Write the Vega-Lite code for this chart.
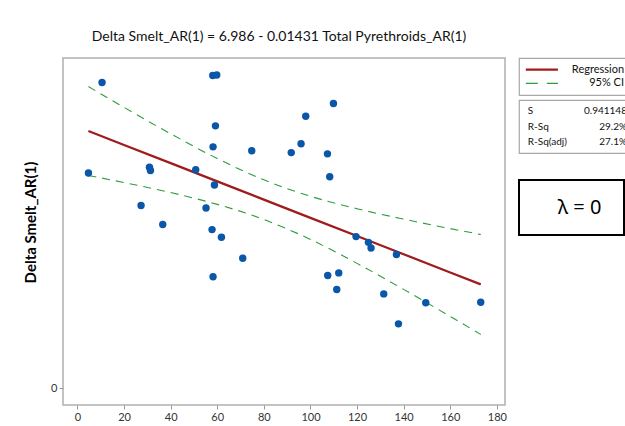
{
  "$schema": "https://vega.github.io/schema/vega-lite/v6.json",
  "background": "white",
  "padding": {"left": 22, "top": 29, "right": 0, "bottom": 0},
  "bounds": "flush",
  "spacing": 14,
  "config": {
    "font": "Lato",
    "view": {"stroke": "#b0b0b0", "strokeWidth": 1.5},
    "axis": {"grid": false, "domain": false, "tickColor": "#999999", "tickSize": 4, "labelFontSize": 11, "labelColor": "#333333", "labelFont": "Lato", "labelPadding": 2}
  },
  "datasets": {
    "pts": [
      {"x": 10.56, "y": 7.68}, {"x": 58.07, "y": 7.79}, {"x": 59.79, "y": 7.80}, {"x": 59.23, "y": 7.00},
      {"x": 58.20, "y": 6.67}, {"x": 74.81, "y": 6.61}, {"x": 91.76, "y": 6.58}, {"x": 4.72, "y": 6.26},
      {"x": 30.90, "y": 6.35}, {"x": 31.33, "y": 6.30}, {"x": 50.77, "y": 6.31}, {"x": 58.80, "y": 6.07},
      {"x": 27.30, "y": 5.75}, {"x": 55.19, "y": 5.71}, {"x": 36.61, "y": 5.45}, {"x": 57.77, "y": 5.37},
      {"x": 109.87, "y": 7.35}, {"x": 97.98, "y": 7.15}, {"x": 95.97, "y": 6.72}, {"x": 107.30, "y": 6.56},
      {"x": 108.28, "y": 6.20}, {"x": 119.57, "y": 5.26}, {"x": 124.89, "y": 5.17}, {"x": 126.01, "y": 5.08},
      {"x": 136.91, "y": 4.98}, {"x": 61.80, "y": 5.25}, {"x": 70.94, "y": 4.92}, {"x": 58.20, "y": 4.63},
      {"x": 107.42, "y": 4.65}, {"x": 112.15, "y": 4.69}, {"x": 111.29, "y": 4.43}, {"x": 131.46, "y": 4.36},
      {"x": 149.49, "y": 4.22}, {"x": 173.09, "y": 4.23}, {"x": 137.77, "y": 3.89}
    ],
    "fit": [
      {"x": 4.7, "fit": 6.919, "lower": 6.221, "upper": 7.617},
      {"x": 20, "fit": 6.700, "lower": 6.109, "upper": 7.291},
      {"x": 40, "fit": 6.414, "lower": 5.952, "upper": 6.876},
      {"x": 60, "fit": 6.127, "lower": 5.767, "upper": 6.487},
      {"x": 80, "fit": 5.841, "lower": 5.530, "upper": 6.152},
      {"x": 100, "fit": 5.555, "lower": 5.216, "upper": 5.894},
      {"x": 120, "fit": 5.269, "lower": 4.840, "upper": 5.698},
      {"x": 140, "fit": 4.983, "lower": 4.431, "upper": 5.535},
      {"x": 160, "fit": 4.696, "lower": 4.006, "upper": 5.386},
      {"x": 173.1, "fit": 4.509, "lower": 3.724, "upper": 5.294}
    ],
    "legend": [{"label": "Regression"}, {"label": "95% CI"}],
    "stats": [
      {"stat": "S", "value": "0.941148"},
      {"stat": "R-Sq", "value": "29.2%"},
      {"stat": "R-Sq(adj)", "value": "27.1%"}
    ],
    "lambda": [{"label": "λ = 0"}]
  },
  "hconcat": [
    {
      "width": 442,
      "height": 347,
      "title": {"text": "Delta Smelt_AR(1) = 6.986 - 0.01431 Total Pyrethroids_AR(1)", "fontSize": 14, "fontWeight": "normal", "font": "Lato", "color": "#111111", "offset": 14, "dx": -5},
      "layer": [
        {
          "data": {"name": "fit"},
          "mark": {"type": "line", "color": "#2e9b3c", "strokeWidth": 1.1, "strokeDash": [8, 6], "interpolate": "monotone"},
          "encoding": {
            "x": {"field": "x", "type": "quantitative", "title": null, "scale": {"domain": [-6.2, 183.5], "nice": false, "zero": false}, "axis": {"values": [0, 20, 40, 60, 80, 100, 120, 140, 160, 180], "labelPadding": 2}},
            "y": {"field": "lower", "type": "quantitative", "title": "Delta Smelt_AR(1)", "scale": {"domain": [2.615, 8.066], "nice": false, "zero": false}, "axis": {"values": [2.88], "labelExpr": "'0'", "titleFontSize": 15, "titleFontWeight": "bold", "titleColor": "#000000", "titlePadding": 12, "titleFont": "Lato", "titleY": 164}}
          }
        },
        {
          "data": {"name": "fit"},
          "mark": {"type": "line", "color": "#2e9b3c", "strokeWidth": 1.1, "strokeDash": [8, 6], "interpolate": "monotone"},
          "encoding": {
            "x": {"field": "x", "type": "quantitative", "title": null},
            "y": {"field": "upper", "type": "quantitative", "title": "Delta Smelt_AR(1)"}
          }
        },
        {
          "data": {"name": "fit"},
          "mark": {"type": "line", "color": "#a01c1c", "strokeWidth": 2.3},
          "encoding": {
            "x": {"field": "x", "type": "quantitative", "title": null},
            "y": {"field": "fit", "type": "quantitative", "title": "Delta Smelt_AR(1)"}
          }
        },
        {
          "data": {"name": "pts"},
          "mark": {"type": "circle", "color": "#0a56a8", "size": 55, "opacity": 1},
          "encoding": {
            "x": {"field": "x", "type": "quantitative", "title": null},
            "y": {"field": "y", "type": "quantitative", "title": "Delta Smelt_AR(1)"}
          }
        }
      ]
    },
    {
      "bounds": "flush",
      "spacing": 5,
      "vconcat": [
        {
          "width": 107,
          "height": 37,
          "view": {"stroke": "#a8a8a8", "strokeWidth": 1.2},
          "data": {"name": "legend"},
          "layer": [
            {
              "mark": {"type": "rule"},
              "encoding": {
                "y": {"field": "label", "type": "nominal", "scale": {"type": "point", "domain": ["Regression", "95% CI"], "padding": 0.85}, "axis": null},
                "x": {"datum": 7, "type": "quantitative", "scale": {"domain": [0, 107]}, "axis": null},
                "x2": {"datum": 40},
                "color": {"field": "label", "type": "nominal", "scale": {"domain": ["Regression", "95% CI"], "range": ["#a01c1c", "#2e9b3c"]}, "legend": null},
                "strokeDash": {"field": "label", "type": "nominal", "scale": {"domain": ["Regression", "95% CI"], "range": [[1, 0], [12, 9]]}, "legend": null},
                "strokeWidth": {"field": "label", "type": "nominal", "scale": {"domain": ["Regression", "95% CI"], "range": [2.4, 1.4]}, "legend": null}
              }
            },
            {
              "mark": {"type": "text", "align": "right", "baseline": "middle", "fontSize": 11, "font": "Lato", "color": "#111111", "clip": true},
              "encoding": {
                "y": {"field": "label", "type": "nominal", "axis": null},
                "x": {"datum": 108, "type": "quantitative"},
                "text": {"field": "label"}
              }
            }
          ]
        },
        {
          "width": 107,
          "height": 53,
          "view": {"stroke": "#a8a8a8", "strokeWidth": 1.2},
          "data": {"name": "stats"},
          "layer": [
            {
              "mark": {"type": "text", "align": "left", "baseline": "middle", "fontSize": 10, "font": "Lato", "color": "#111111"},
              "encoding": {
                "y": {"field": "stat", "type": "nominal", "scale": {"type": "point", "domain": ["S", "R-Sq", "R-Sq(adj)"], "padding": 0.75}, "axis": null},
                "x": {"datum": 9, "type": "quantitative", "scale": {"domain": [0, 107]}, "axis": null},
                "text": {"field": "stat"}
              }
            },
            {
              "mark": {"type": "text", "align": "right", "baseline": "middle", "fontSize": 10, "font": "Lato", "color": "#111111", "clip": true},
              "encoding": {
                "y": {"field": "stat", "type": "nominal", "axis": null},
                "x": {"datum": 111, "type": "quantitative"},
                "text": {"field": "value"}
              }
            }
          ]
        },
        {
          "width": 105,
          "height": 17,
          "view": {"stroke": null},
          "data": {"values": [{"t": ""}]},
          "mark": {"type": "text"},
          "encoding": {"text": {"field": "t"}}
        },
        {
          "width": 105,
          "height": 55,
          "view": {"stroke": "#000000", "strokeWidth": 2},
          "data": {"name": "lambda"},
          "mark": {"type": "text", "align": "center", "baseline": "middle", "fontSize": 20, "font": "Noto Sans", "color": "#000000", "dx": 8},
          "encoding": {
            "text": {"field": "label"}
          }
        }
      ]
    }
  ]
}
